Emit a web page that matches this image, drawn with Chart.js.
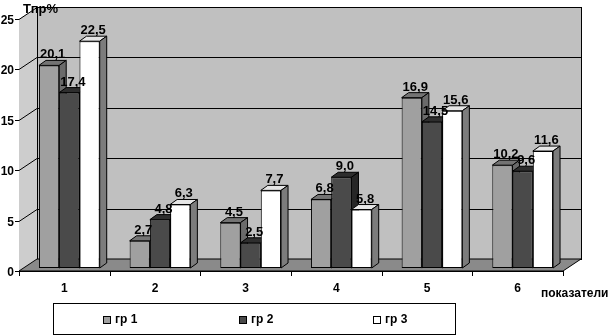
<!DOCTYPE html>
<html>
<head>
<meta charset="utf-8">
<script src="https://cdn.jsdelivr.net/npm/chart.js@4.4.1/dist/chart.umd.min.js"></script>
<style>
  html, body { margin: 0; padding: 0; background: #fff; }
</style>
</head>
<body>
<canvas id="chart" width="610" height="336"></canvas>
<script>
// data
const categories = ['1', '2', '3', '4', '5', '6']
const gr1 = [20.1, 2.7, 4.5, 6.8, 16.9, 10.2]
const gr2 = [17.4, 4.8, 2.5, 9.0, 14.5, 9.6]
const gr3 = [22.5, 6.3, 7.7, 5.8, 15.6, 11.6]
const seriesNames = ['гр 1', 'гр 2', 'гр 3']
const yTicks = [0, 5, 10, 15, 20, 25]

const FONT = 'Liberation Sans, Arial, sans-serif'
// 3d look: wall depth, bar offset in depth, bar depth
const DX = 18, DY = -12
const BX = 5, BY = -3
const BDX = 7, BDY = -5
const fronts = ['#a0a0a0', '#4a4a4a', '#ffffff']
const tops = ['#737373', '#2e2e2e', '#e6e6e6']
const sides = ['#6a6a6a', '#262626', '#7c7c7c']

function poly(ctx, pts, fill) {
    ctx.beginPath()
    ctx.moveTo(pts[0][0], pts[0][1])
    for (let i = 1; i < pts.length; i++) ctx.lineTo(pts[i][0], pts[i][1])
    ctx.closePath()
    if (fill) { ctx.fillStyle = fill; ctx.fill() }
    ctx.strokeStyle = '#000'
    ctx.lineWidth = 1
    ctx.stroke()
}

const walls = {
    id: 'walls',
    beforeDraw(chart) {
        const ctx = chart.ctx
        const xs = chart.scales.x, ys = chart.scales.y
        const L = chart.chartArea.left, R = chart.chartArea.right
        const y0 = ys.getPixelForValue(0), yTop = ys.getPixelForValue(25)
        ctx.save()
        ctx.fillStyle = '#fff'
        ctx.fillRect(0, 0, chart.width, chart.height)

        // side wall
        ctx.beginPath()
        ctx.moveTo(L, yTop); ctx.lineTo(L + DX, yTop + DY)
        ctx.lineTo(L + DX, y0 + DY); ctx.lineTo(L, y0)
        ctx.closePath()
        ctx.fillStyle = '#cdcdcd'
        ctx.fill()
        // back wall
        ctx.fillStyle = '#c0c0c0'
        ctx.fillRect(L + DX, yTop + DY, R - L, y0 - yTop)
        ctx.strokeStyle = '#000'
        ctx.lineWidth = 1
        ctx.strokeRect(Math.round(L + DX) + 0.5, Math.round(yTop + DY) + 0.5, Math.round(R - L), Math.round(y0 - yTop))
        // floor
        poly(ctx, [[L, y0], [R, y0], [R + DX, y0 + DY], [L + DX, y0 + DY]], '#8a8a8a')

        // y grid, ticks and labels
        ctx.font = 'bold 12px ' + FONT
        ctx.fillStyle = '#000'
        ctx.textAlign = 'right'
        ctx.textBaseline = 'middle'
        yTicks.forEach(v => {
            const py = Math.round(ys.getPixelForValue(v)) + 0.5
            ctx.beginPath()
            if (v > 0) {
                ctx.moveTo(L + DX, py + DY); ctx.lineTo(R + DX, py + DY)
                ctx.moveTo(L, py); ctx.lineTo(L + DX, py + DY)
            }
            ctx.moveTo(L - 4, py); ctx.lineTo(L, py)
            ctx.stroke()
            ctx.fillText(String(v), L - 5, py + 1)
        })

        // x axis ticks and labels
        const w = xs.getPixelForValue(1) - xs.getPixelForValue(0)
        ctx.beginPath()
        ctx.moveTo(L, Math.round(y0) + 0.5); ctx.lineTo(R, Math.round(y0) + 0.5)
        for (let i = 0; i <= categories.length; i++) {
            const px = Math.round(xs.getPixelForValue(0) - w / 2 + i * w) + 0.5
            ctx.moveTo(px, y0); ctx.lineTo(px, y0 + 5)
        }
        ctx.stroke()
        ctx.textAlign = 'center'
        categories.forEach((c, i) => ctx.fillText(c, xs.getPixelForValue(i), 289))

        // axis titles
        ctx.font = 'bold 13px ' + FONT
        ctx.textAlign = 'left'
        ctx.fillText('Тпр%', 23, 9)
        ctx.font = 'bold 12px ' + FONT
        ctx.fillText('показатели', 541, 294)

        // legend
        ctx.fillStyle = '#fff'
        ctx.fillRect(53, 303, 402, 32)
        ctx.strokeRect(53.5, 303.5, 402, 31)
        const lx = [103, 239, 373]
        ctx.font = 'bold 12px ' + FONT
        seriesNames.forEach((n, i) => {
            ctx.fillStyle = fronts[i]
            ctx.fillRect(lx[i] + 0.5, 316.5, 7, 7)
            ctx.strokeRect(lx[i] + 0.5, 316.5, 7, 7)
            ctx.fillStyle = '#000'
            ctx.fillText(n, lx[i] + 12, 320)
        })
        ctx.restore()
    },
    beforeDatasetsDraw(chart) {
        const ctx = chart.ctx
        ctx.save()
        ctx.translate(BX, BY)
        // bars in painter's order: category by category, left to right
        categories.forEach((c, i) => {
            chart.data.datasets.forEach((ds, d) => {
                const el = chart.getDatasetMeta(d).data[i]
                el.draw(ctx)
                const l = el.x - el.width / 2, r = el.x + el.width / 2
                const top = el.y, base = el.base
                poly(ctx, [[l, top], [r, top], [r + BDX, top + BDY], [l + BDX, top + BDY]], tops[d])
                poly(ctx, [[r, top], [r + BDX, top + BDY], [r + BDX, base + BDY], [r, base]], sides[d])
            })
        })
        // value labels on top of everything
        ctx.font = 'bold 13px ' + FONT
        ctx.textAlign = 'center'
        ctx.textBaseline = 'alphabetic'
        ctx.fillStyle = '#000'
        chart.data.datasets.forEach((ds, d) => {
            chart.getDatasetMeta(d).data.forEach((el, i) => {
                ctx.fillText(ds.data[i].toFixed(1).replace('.', ','), el.x + BDX / 2, el.y - 7)
            })
        })
        ctx.restore()
        return false
    }
}

const seriesData = [gr1, gr2, gr3]
new Chart(document.getElementById('chart'), {
    type: 'bar',
    data: {
        labels: categories,
        datasets: seriesData.map((vals, d) => ({
            label: seriesNames[d],
            data: vals,
            backgroundColor: fronts[d],
            borderColor: '#000',
            borderWidth: 1,
            borderSkipped: false,
            categoryPercentage: 0.67,
            barPercentage: 1
        }))
    },
    options: {
        responsive: false,
        animation: false,
        layout: { padding: { left: 19, right: 47, top: 19, bottom: 65 } },
        scales: {
            x: { display: false },
            y: { display: false, min: 0, max: 25 }
        },
        plugins: { legend: { display: false }, tooltip: { enabled: false } }
    },
    plugins: [walls]
})
</script>
</body>
</html>
